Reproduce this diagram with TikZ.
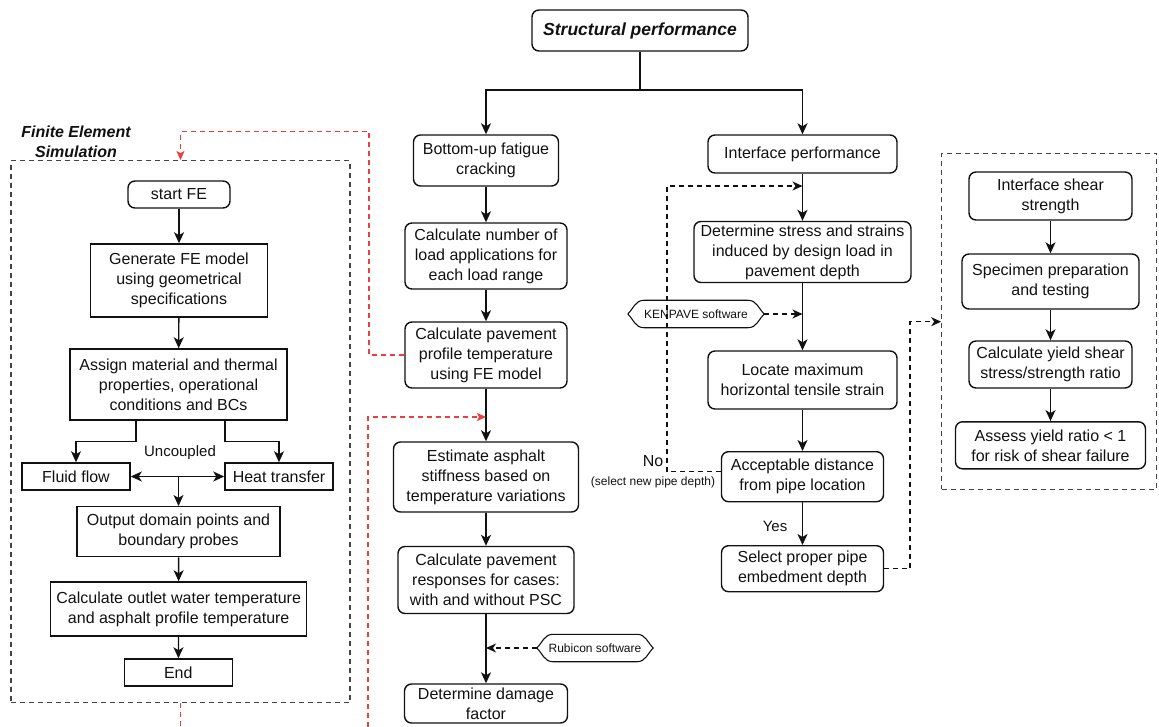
\documentclass[tikz,border=0pt]{standalone}
\usepackage{fontspec}
\setmainfont{Liberation Sans}
\usetikzlibrary{arrows.meta}
\definecolor{ln}{HTML}{111111}
\definecolor{fered}{HTML}{F03C3C}
\definecolor{fegray}{HTML}{444444}
\begin{document}
\begin{tikzpicture}[x=1pt,y=-1pt,
  base/.style={align=center, inner sep=0pt, text=ln, font=\fontsize{16}{20}\selectfont},
  rbox/.style={base, draw=ln, line width=1.4pt, rounded corners=7pt},
  sbox/.style={base, draw=ln, line width=1.5pt},
  arr/.style={draw=ln, line width=1.4pt, -{Stealth[length=11pt,width=10pt,inset=3pt]}},
  darr/.style={draw=ln, line width=1.3pt, dash pattern=on 5pt off 4pt, -{Stealth[length=10pt,width=9pt,inset=3pt]}},
  rarr/.style={draw=fered, line width=1.3pt, dash pattern=on 5pt off 4pt, -{Stealth[length=9pt,width=8pt,inset=2pt]}},
  rline/.style={draw=fered, line width=1.3pt, dash pattern=on 5pt off 4pt},
  grpbox/.style={draw=fegray, line width=1.3pt, dash pattern=on 5pt off 4pt, inner sep=0pt},
  soft/.style={base, font=\fontsize{12}{14}\selectfont, minimum height=27pt},
  softline/.style={draw=ln, line width=1.1pt},
  small/.style={base, font=\fontsize{12}{14}\selectfont}
]
\useasboundingbox (0,0) rectangle (1159,727);

% ---------- group boxes ----------
\node[grpbox, minimum width=339pt, minimum height=542pt] (fe) at (180.5,431.7) {};
\node[grpbox, minimum width=215pt, minimum height=336pt] (rg) at (1049.3,321.2) {};
\node[base, font=\fontsize{16}{20}\selectfont\bfseries\itshape] (fetitle) at (76,142) {Finite Element\\Simulation};

% ---------- FE column ----------
\node[rbox, minimum width=102pt, minimum height=27pt] (start) at (179,194.5) {start FE};
\node[sbox, minimum width=177pt, minimum height=73pt] (gen) at (179,280.5) {Generate FE model\\using geometrical\\specifications};
\node[sbox, minimum width=217pt, minimum height=71pt] (assign) at (178.5,384.5) {Assign material and thermal\\properties, operational\\conditions and BCs};
\node[sbox, minimum width=108pt, minimum height=27pt] (fluid) at (76,476.5) {Fluid flow};
\node[sbox, minimum width=108pt, minimum height=27pt] (heat) at (279,476.5) {Heat transfer};
\node[base, font=\fontsize{15}{18}\selectfont] (unc) at (180,453) {Uncoupled};
\node[sbox, minimum width=203pt, minimum height=50pt] (outp) at (178.5,531.7) {Output domain points and\\boundary probes};
\node[sbox, minimum width=256pt, minimum height=54pt] (outl) at (178.7,609) {Calculate outlet water temperature\\and asphalt profile temperature};
\node[sbox, minimum width=108pt, minimum height=27pt] (fend) at (178.3,672.5) {End};

\draw[arr] (start) -- (gen);
\draw[arr] (gen) -- (assign);
\draw[arr] ([xshift=-42.5pt]assign.south) -- ++(0,21) -| (fluid.north);
\draw[arr] ([xshift=46.5pt]assign.south) -- ++(0,21) -| (heat.north);
\draw[draw=ln, line width=1.4pt, {Stealth[length=11pt,width=10pt,inset=3pt]}-{Stealth[length=11pt,width=10pt,inset=3pt]}] (fluid.east) -- (heat.west);
\draw[arr] (outp.north |- fluid.east) -- (outp.north);
\draw[arr] (outp) -- (outl);
\draw[arr] (outl) -- (fend);

% ---------- top ----------
\node[rbox, minimum width=216pt, minimum height=41pt, font=\fontsize{17.5}{20}\selectfont\bfseries\itshape] (sp) at (640,30.5) {Structural performance};
\coordinate (split) at (640,90);

% ---------- central column ----------
\node[rbox, minimum width=145pt, minimum height=51pt] (bu) at (486,160.5) {Bottom-up fatigue\\cracking};
\node[rbox, minimum width=162pt, minimum height=66pt] (cn) at (486,256) {Calculate number of\\load applications for\\each load range};
\node[rbox, minimum width=162pt, minimum height=66pt] (cp) at (486,355) {Calculate pavement\\profile temperature\\using FE model};
\node[rbox, minimum width=185pt, minimum height=70pt] (ea) at (486,477) {Estimate asphalt\\stiffness based on\\temperature variations};
\node[rbox, minimum width=176pt, minimum height=67pt] (cr) at (486,580) {Calculate pavement\\responses for cases:\\with and without PSC};
\node[rbox, minimum width=163pt, minimum height=39pt] (df) at (486,703.5) {Determine damage\\factor};
\node[soft, minimum width=116pt] (rub) at (595,648) {Rubicon software};

\draw[arr] (sp.south) -- (split) -| (bu.north);
\draw[arr] (bu) -- (cn);
\draw[arr] (cn) -- (cp);
\draw[arr] (cp) -- (ea);
\draw[arr] (ea) -- (cr);
\draw[arr] (cr) -- (df);
\draw[softline] (rub.west) to[out=45,in=180] ([xshift=16pt]rub.north west) -- ([xshift=-16pt]rub.north east) to[out=0,in=135] (rub.east) to[out=-135,in=0] ([xshift=-16pt]rub.south east) -- ([xshift=16pt]rub.south west) to[out=180,in=-45] (rub.west);
\draw[darr] (rub.west) -- (rub.west -| cr.south);

% ---------- interface column ----------
\node[rbox, minimum width=189pt, minimum height=38pt] (ip) at (802.5,154) {Interface performance};
\node[rbox, minimum width=217pt, minimum height=61pt] (det) at (802.5,252) {Determine stress and strains\\induced by design load in\\pavement depth};
\node[rbox, minimum width=189pt, minimum height=58pt] (loc) at (802.5,380) {Locate maximum\\horizontal tensile strain};
\node[rbox, minimum width=162pt, minimum height=50pt] (acc) at (802.5,476.7) {Acceptable distance\\from pipe location};
\node[rbox, minimum width=162pt, minimum height=46pt] (sel) at (802.5,568.7) {Select proper pipe\\embedment depth};
\node[soft, minimum width=136pt] (ken) at (696,314) {KENPAVE software};
\node[base] (no) at (653,461) {No};
\node[small] (nosub) at (653,482) {(select new pipe depth)};
\node[base, font=\fontsize{15}{18}\selectfont] (yes) at (775,526) {Yes};

\draw[arr] (split) -| (ip.north);
\draw[arr] (ip) -- (det);
\draw[arr] (det) -- (loc);
\draw[arr] (loc) -- (acc);
\draw[arr] (acc) -- (sel);
\draw[softline] (ken.west) to[out=45,in=180] ([xshift=16pt]ken.north west) -- ([xshift=-16pt]ken.north east) to[out=0,in=135] (ken.east) to[out=-135,in=0] ([xshift=-16pt]ken.south east) -- ([xshift=16pt]ken.south west) to[out=180,in=-45] (ken.west);
\draw[darr] (ken.east) -- (ken.east -| det.south);

\coordinate (nocorner) at (667,186);
\coordinate (loopin) at (802.5,186);
\draw[darr] ([yshift=5pt]acc.west) -| (nocorner) -- (loopin);

\coordinate (selcorner) at (910,321.7);
\draw[darr] (sel.east) -| (selcorner) -- (selcorner -| rg.west);

% ---------- right group ----------
\node[rbox, minimum width=163pt, minimum height=48pt] (is) at (1050.5,196) {Interface shear\\strength};
\node[rbox, minimum width=177pt, minimum height=55pt] (spec) at (1050.5,281.5) {Specimen preparation\\and testing};
\node[rbox, minimum width=163pt, minimum height=47pt] (cy) at (1050.5,364.5) {Calculate yield shear\\stress/strength ratio};
\node[rbox, minimum width=190pt, minimum height=47pt] (as) at (1050.5,445.3) {Assess yield ratio < 1\\for risk of shear failure};
\draw[arr] (is) -- (spec);
\draw[arr] (spec) -- (cy);
\draw[arr] (cy) -- (as);

% ---------- red links ----------
\coordinate (r1) at (369,131.7);
\draw[rarr] (cp.west) -| (r1) -| (fe.north);
\coordinate (rb1) at (180.5,727);
\draw[rline] (fe.south) -- (rb1);
\coordinate (rb2) at (368,727);
\coordinate (rin) at (486,417);
\draw[rarr] (rb2) |- (rin);
\end{tikzpicture}
\end{document}
